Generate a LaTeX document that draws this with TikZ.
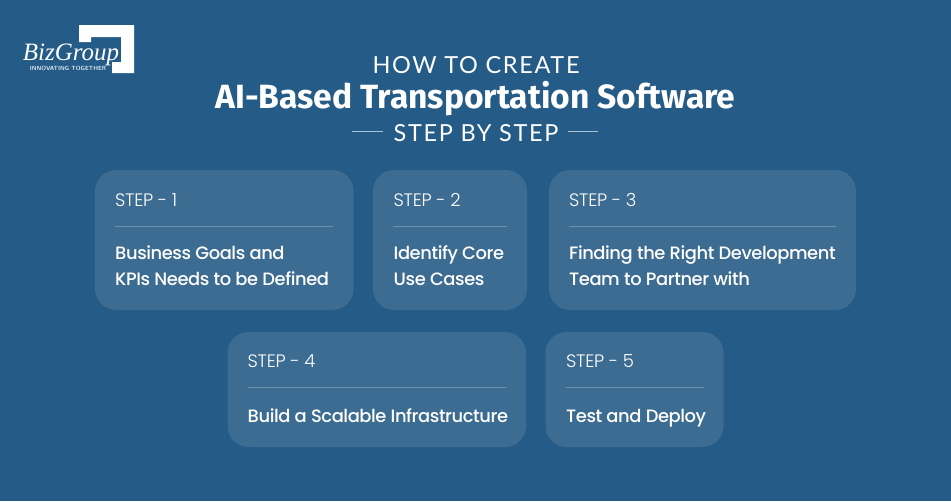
\documentclass[tikz,border=0pt]{standalone}
\usepackage{fontspec}
\setmainfont{Poppins}
\newfontfamily\titlefont{Fira Sans}
\newfontfamily\headfont[LetterSpace=7]{Lato}
\newfontfamily\bizfont{Liberation Serif}
\newfontfamily\bodyfont[LetterSpace=-2.4]{Poppins Medium}
\newfontfamily\labelfont[LetterSpace=-1.5]{Poppins Light}
\definecolor{bgblue}{HTML}{245B87}
\definecolor{cardblue}{HTML}{3C6C91}
\definecolor{rulecol}{HTML}{6D92AE}
\definecolor{dashcol}{HTML}{A9BFD0}
\tikzset{
  x=1pt,y=-1pt,
  card/.style={fill=cardblue,rounded corners=21pt},
  sep/.style={draw=rulecol,line width=.8pt},
  steplabel/.style={anchor=base west,inner sep=0pt,text=white,font=\labelfont\fontsize{18}{20}\selectfont},
  bodytext/.style={anchor=base west,inner sep=0pt,text=white,font=\bodyfont\fontsize{17.9}{20}\selectfont},
  headtext/.style={anchor=base,inner sep=0pt,text=white,font=\headfont\fontsize{23.5}{26}\selectfont},
  dashline/.style={draw=dashcol,line width=1pt}
}
\begin{document}
\begin{tikzpicture}
\useasboundingbox (0,0) rectangle (951,501);
\fill[bgblue] (0,0) rectangle (951,501);
% logo
\fill[white] (79,25) -- (134,25) -- (134,73) -- (112,73) -- (112,62) -- (121,62) -- (121,37) -- (91,37) -- (91,42) -- (79,42) -- cycle;
\node[anchor=base,inner sep=0pt,text=white,font=\bizfont\itshape\fontsize{25}{28}\selectfont] (biz) at (71,60) {BizGroup};
\node[anchor=base,inner sep=0pt,text=white!85!bgblue,font=\sffamily\bfseries\fontsize{6}{7}\selectfont] (tag) at (68,70.5) {INNOVATING TOGETHER};
% heading
\node[headtext] (h1) at (476,73) {HOW TO CREATE};
\node[anchor=base,inner sep=0pt,text=white,font=\titlefont\bfseries\fontsize{33.6}{36}\selectfont] (h2) at (475.5,108) {AI-Based Transportation Software};
\node[headtext] (h3) at (476,141) {STEP BY STEP};
\coordinate (d1a) at (352,131.5); \coordinate (d1b) at (383,131.5);
\coordinate (d2a) at (568,131.5); \coordinate (d2b) at (598,131.5);
\draw[dashline] (d1a) -- (d1b);
\draw[dashline] (d2a) -- (d2b);
% cards
\fill[card] (95,170) rectangle (353.5,310);
\fill[card] (373,170) rectangle (527,310);
\fill[card] (549,170) rectangle (856,310);
\fill[card] (227.5,332) rectangle (526,447);
\fill[card] (545.5,332) rectangle (723.5,447);
% step 1
\node[steplabel] (s1) at (115,206) {STEP - 1};
\draw[sep] (115,226.5) -- (333,226.5);
\node[bodytext] (b1a) at (115,259) {Business Goals and};
\node[bodytext] (b1b) at (115,285) {KPIs Needs to be Defined};
% step 2
\node[steplabel] (s2) at (393.5,206) {STEP - 2};
\draw[sep] (393,226.5) -- (507,226.5);
\node[bodytext] (b2a) at (393.5,259) {Identify Core};
\node[bodytext] (b2b) at (393.5,285) {Use Cases};
% step 3
\node[steplabel] (s3) at (569,206) {STEP - 3};
\draw[sep] (569,226.5) -- (836,226.5);
\node[bodytext] (b3a) at (569,259) {Finding the Right Development};
\node[bodytext] (b3b) at (569,285) {Team to Partner with};
% step 4
\node[steplabel] (s4) at (247.5,367) {STEP - 4};
\draw[sep] (247.5,387.5) -- (506,387.5);
\node[bodytext] (b4) at (247.5,422) {Build a Scalable Infrastructure};
% step 5
\node[steplabel] (s5) at (566,367) {STEP - 5};
\draw[sep] (566,387.5) -- (703.5,387.5);
\node[bodytext] (b5) at (566,422) {Test and Deploy};
\end{tikzpicture}
\end{document}
